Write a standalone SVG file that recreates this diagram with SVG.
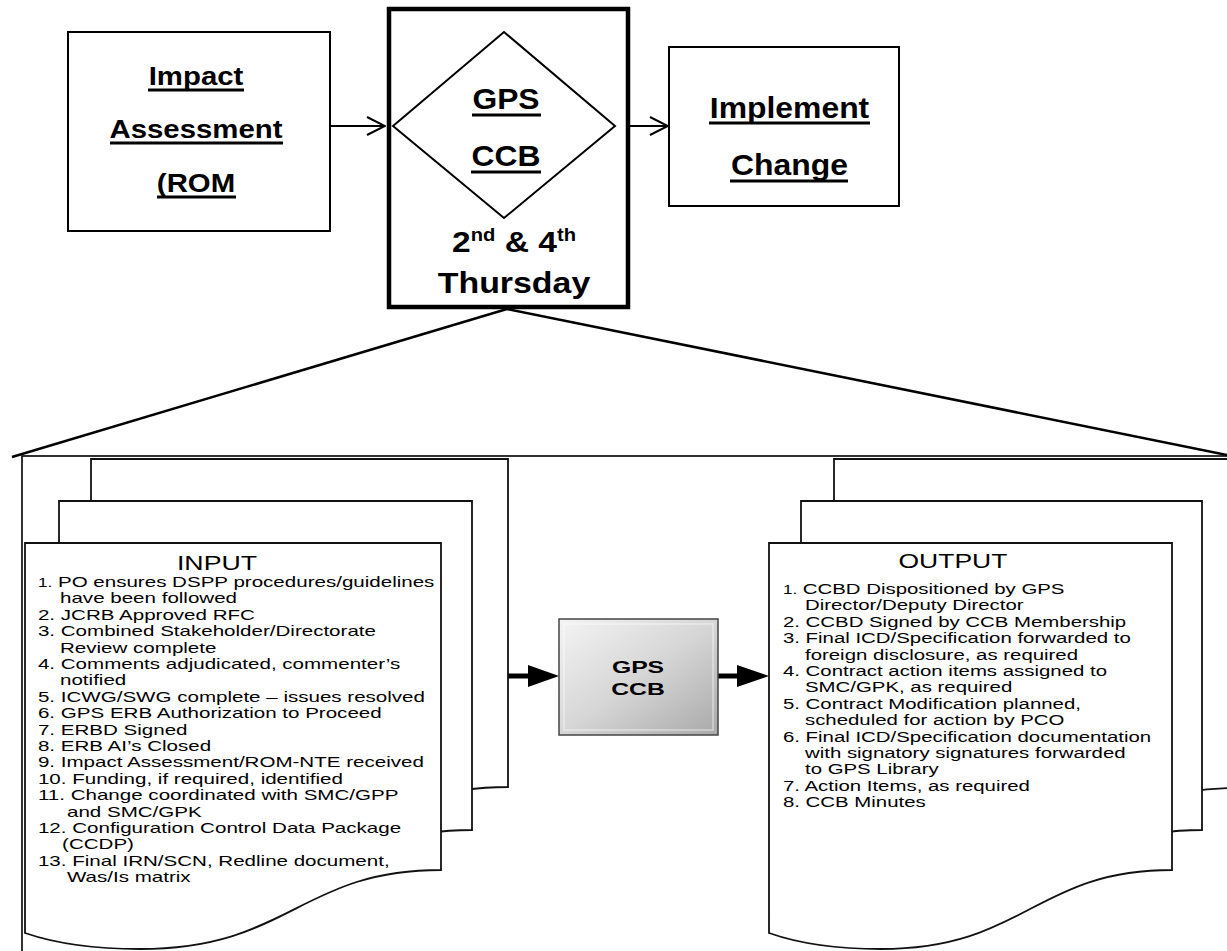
<svg xmlns="http://www.w3.org/2000/svg" width="1227" height="951" viewBox="0 0 1227 951">
<defs>
<style>
.box{fill:#fff;stroke:#000;stroke-width:2}
.big{fill:#fff;stroke:#000;stroke-width:4.5}
.page{fill:#fff;stroke:#111;stroke-width:1.8;stroke-linejoin:miter}
.hd{font-family:"Liberation Sans",Arial,sans-serif;font-weight:bold;fill:#000;text-anchor:middle}
.ul{stroke:#000;stroke-width:3}
.lst{font-family:"Liberation Sans",Arial,sans-serif;font-size:15px;fill:#000}
.ttl{font-family:"Liberation Sans",Arial,sans-serif;font-size:19.5px;fill:#000;text-anchor:middle}
.thin{fill:none;stroke:#000;stroke-width:2}
.call{fill:none;stroke:#000;stroke-width:2.5}
.fat{fill:none;stroke:#000;stroke-width:5}
</style>
<marker id="chev" viewBox="0 0 20 20" refX="19" refY="10" markerWidth="20" markerHeight="20" markerUnits="userSpaceOnUse" orient="auto">
<polyline points="1,1 19,10 1,19" fill="none" stroke="#000" stroke-width="2"/>
</marker>
<linearGradient id="gbox" x1="0" y1="0" x2="1" y2="1">
<stop offset="0" stop-color="#f4f4f4"/>
<stop offset="0.5" stop-color="#d6d6d6"/>
<stop offset="1" stop-color="#a9a9a9"/>
</linearGradient>
</defs>
<rect width="1227" height="951" fill="#fff"/>

<g id="frame">
<rect x="22" y="456" width="1240" height="520" fill="none" stroke="#000" stroke-width="1.6"/>
</g>

<g id="connectors">
<line class="thin" x1="331" y1="126" x2="385" y2="126" marker-end="url(#chev)"/>
<line class="thin" x1="616" y1="126" x2="668" y2="126" marker-end="url(#chev)"/>
<line class="call" x1="507" y1="309" x2="12" y2="457"/>
<line class="call" x1="507" y1="309" x2="1227" y2="455"/>
<line class="fat" x1="441" y1="676" x2="531" y2="676"/>
<polygon points="528,665 559,676 528,687" fill="#000"/>
<line class="fat" x1="718" y1="676" x2="740" y2="676"/>
<polygon points="737,665 769,676 737,687" fill="#000"/>
</g>

<g id="impact">
<rect class="box" x="68" y="32" width="262" height="199"/>
<text class="hd" font-size="26" transform="translate(196,85) scale(1.13,1)">Impact</text>
<text class="hd" font-size="26" transform="translate(196,138) scale(1.13,1)">Assessment</text>
<text class="hd" font-size="26" transform="translate(196,192) scale(1.13,1)">(ROM</text>
<line class="ul" x1="148" y1="90" x2="244" y2="90"/>
<line class="ul" x1="110" y1="143" x2="283" y2="143"/>
<line class="ul" x1="157" y1="197" x2="236" y2="197"/>
</g>

<g id="ccb">
<rect class="big" x="389" y="9" width="239" height="298"/>
<polygon points="393,126 504,32 615,126 504,218" fill="#fff" stroke="#000" stroke-width="2"/>
<text class="hd" font-size="30" transform="translate(506,109) scale(1.06,1)">GPS</text>
<text class="hd" font-size="30" transform="translate(506,166) scale(1.06,1)">CCB</text>
<line class="ul" x1="472" y1="115" x2="541" y2="115"/>
<line class="ul" x1="471" y1="172" x2="541" y2="172"/>
<text class="hd" font-size="30" transform="translate(514,252) scale(1.12,1)">2<tspan font-size="18" dy="-11">nd</tspan><tspan dy="11"> &amp; 4</tspan><tspan font-size="18" dy="-11">th</tspan></text>
<text class="hd" font-size="30" transform="translate(514,293) scale(1.13,1)">Thursday</text>
</g>

<g id="implement">
<rect class="box" x="669" y="47" width="230" height="159"/>
<text class="hd" font-size="29" transform="translate(789.5,118) scale(1.1,1)">Implement</text>
<text class="hd" font-size="29" transform="translate(789.5,175) scale(1.1,1)">Change</text>
<line class="ul" x1="709" y1="123" x2="870" y2="123"/>
<line class="ul" x1="730" y1="181" x2="848" y2="181"/>
</g>

<g id="input">
<path class="page" d="M91,459 H508 V787 C367,787 357,866 207,866 C167,866 127,862 91,850 Z"/>
<path class="page" d="M59,501 H472 V830 C331,830 321,909 173,909 C133,909 94,905 59,893 Z"/>
<path class="page" d="M25,543 H441 V870 C300,870 290,949 140,949 C100,949 60,945 25,933 Z"/>
<g transform="scale(1.37,1)">
<text class="ttl" x="158.4" y="570">INPUT</text>
<text class="lst" y="587"><tspan x="27.7"><tspan font-size="12.5">1.</tspan> PO ensures DSPP procedures/guidelines</tspan></text>
<text class="lst" x="43.8" y="603.4">have been followed</text>
<text class="lst" x="27.7" y="619.8">2. JCRB Approved RFC</text>
<text class="lst" x="27.7" y="636.2">3. Combined Stakeholder/Directorate</text>
<text class="lst" x="43.8" y="652.6">Review  complete</text>
<text class="lst" x="27.7" y="669">4. Comments adjudicated, commenter’s</text>
<text class="lst" x="43.8" y="685.4">notified</text>
<text class="lst" x="27.7" y="701.8">5. ICWG/SWG complete – issues resolved</text>
<text class="lst" x="27.7" y="718.2">6. GPS ERB Authorization to Proceed</text>
<text class="lst" x="27.7" y="734.6">7. ERBD Signed</text>
<text class="lst" x="27.7" y="751">8. ERB AI’s Closed</text>
<text class="lst" x="27.7" y="767.4">9. Impact Assessment/ROM-NTE received</text>
<text class="lst" x="27.7" y="783.8">10. Funding, if required, identified</text>
<text class="lst" x="27.7" y="800.2">11. Change coordinated with SMC/GPP</text>
<text class="lst" x="48.9" y="816.6">and SMC/GPK</text>
<text class="lst" x="27.7" y="833">12. Configuration Control Data Package</text>
<text class="lst" x="45.3" y="849.4">(CCDP)</text>
<text class="lst" x="27.7" y="865.8">13. Final IRN/SCN, Redline document,</text>
<text class="lst" x="48.9" y="882.2">Was/Is matrix</text>
</g>
</g>

<g id="gpsccb">
<rect x="559" y="619" width="159" height="116" fill="url(#gbox)" stroke="#444" stroke-width="1.5"/>
<rect x="564" y="624" width="149" height="106" fill="none" stroke="#ffffff" stroke-opacity="0.35" stroke-width="2"/>
<text class="hd" font-size="16.5" transform="translate(638,673) scale(1.5,1)">GPS</text>
<text class="hd" font-size="16.5" transform="translate(638,695) scale(1.5,1)">CCB</text>
</g>

<g id="output">
<path class="page" d="M834,459 H1236 V788 C1097,788 1087,867 945,867 C905,867 868,863 834,851 Z"/>
<path class="page" d="M801,501 H1202 V830 C1063,830 1053,909 912,909 C872,909 835,905 801,893 Z"/>
<path class="page" d="M769,543 H1172 V870 C1035,870 1025,949 881,949 C841,949 803,945 769,933 Z"/>
<g transform="scale(1.36,1)">
<text class="ttl" x="700.7" y="568">OUTPUT</text>
<text class="lst" y="594"><tspan x="575.7"><tspan font-size="12.5">1.</tspan> CCBD Dispositioned by GPS</tspan></text>
<text class="lst" x="591.9" y="610.4">Director/Deputy Director</text>
<text class="lst" x="575.7" y="626.8">2. CCBD Signed by CCB Membership</text>
<text class="lst" x="575.7" y="643.2">3. Final ICD/Specification forwarded to</text>
<text class="lst" x="591.9" y="659.6">foreign disclosure, as required</text>
<text class="lst" x="575.7" y="676">4. Contract action items assigned to</text>
<text class="lst" x="591.9" y="692.4">SMC/GPK, as required</text>
<text class="lst" x="575.7" y="708.8">5. Contract Modification planned,</text>
<text class="lst" x="591.9" y="725.2">scheduled for action by PCO</text>
<text class="lst" x="575.7" y="741.6">6. Final ICD/Specification documentation</text>
<text class="lst" x="591.9" y="758">with signatory signatures forwarded</text>
<text class="lst" x="591.9" y="774.4">to GPS Library</text>
<text class="lst" x="575.7" y="790.8">7. Action Items, as required</text>
<text class="lst" x="575.7" y="807.2">8. CCB Minutes</text>
</g>
</g>
</svg>
